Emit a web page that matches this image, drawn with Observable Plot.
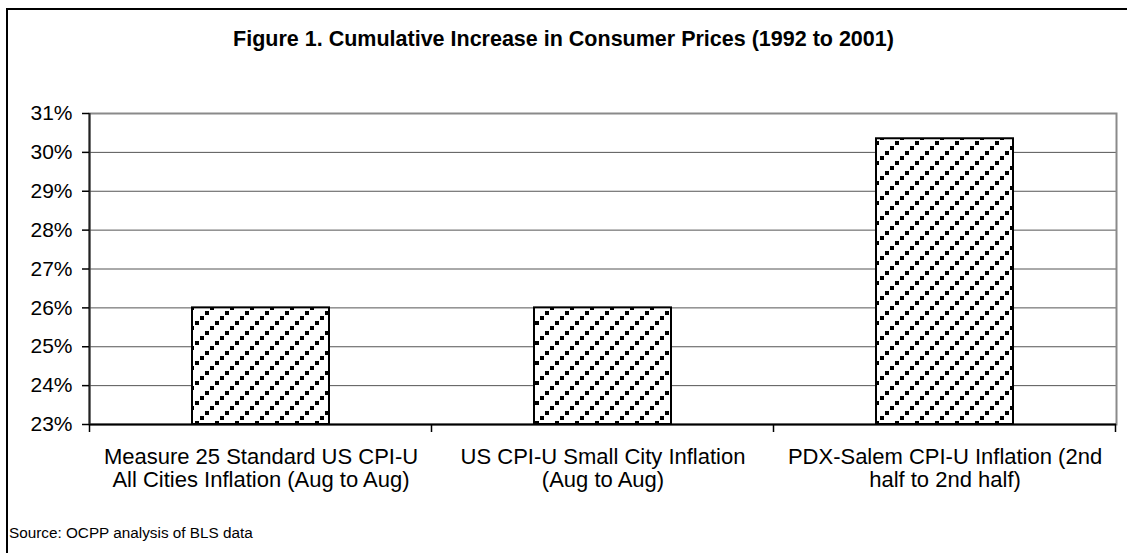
<!DOCTYPE html>
<html><head><meta charset="utf-8">
<script src="https://cdn.jsdelivr.net/npm/d3@7"></script>
<script src="https://cdn.jsdelivr.net/npm/@observablehq/plot@0.6"></script>
<style>
html,body{margin:0;padding:0;background:#fff;}
#wrap{position:relative;width:1127px;height:553px;overflow:hidden;font-family:"Liberation Sans",Arial,sans-serif;color:#000;}
#border{position:absolute;left:6px;top:8px;width:1200px;height:700px;border-top:2px solid #000;border-left:2px solid #000;}
#chart{position:absolute;left:0;top:0;}
#title{position:absolute;left:0;width:1127px;top:29px;line-height:21px;text-align:center;font-weight:bold;font-size:21.5px;}
#source{position:absolute;left:9px;top:525px;line-height:15px;font-size:15.3px;}
</style>
</head><body>
<div id="wrap">
  <div id="border"></div>
  <div id="chart"></div>
  <div id="title"></div>
  <div id="source"></div>
</div>
<script>
const titleText = "Figure 1. Cumulative Increase in Consumer Prices (1992 to 2001)";
const sourceText = "Source: OCPP analysis of BLS data";
const categories = [
  "Measure 25 Standard US CPI-U\nAll Cities Inflation (Aug to Aug)",
  "US CPI-U Small City Inflation\n(Aug to Aug)",
  "PDX-Salem CPI-U Inflation (2nd\nhalf to 2nd half)"
];
const values = [26.0, 26.0, 30.35];
const yTicks = [23, 24, 25, 26, 27, 28, 29, 30, 31];
const yDomain = [23, 31];

document.getElementById("title").textContent = titleText;
document.getElementById("source").textContent = sourceText;

const data = categories.map((c, i) => ({category: c, value: values[i]}));

const boundaryTicks = (index, scales, vals, dims) => {
  const x = scales.x, y = scales.y;
  const n = categories.length;
  const step = typeof x.step === "function" ? x.step() : (dims.width - dims.marginLeft - dims.marginRight) / n;
  const bw = typeof x.bandwidth === "function" ? x.bandwidth() : (x.bandwidth || 0);
  const bounds = [x(categories[0]) + bw / 2 - step / 2, ...categories.map(c => x(c) + bw / 2 + step / 2)];
  const yb = y(yDomain[0]), yt = y(yDomain[1]);
  const g = d3.create("svg:g");
  g.selectAll("line.b").data(bounds).join("line")
    .attr("class", "b")
    .attr("x1", d => d).attr("x2", d => d)
    .attr("y1", yb).attr("y2", yb + 8)
    .attr("stroke", "#000").attr("stroke-width", 1.5);
  g.append("line")
    .attr("x1", bounds[0]).attr("x2", bounds[0])
    .attr("y1", yt).attr("y2", yb)
    .attr("stroke", "#222").attr("stroke-width", 2);
  return g.node();
};

const chart = Plot.plot({
  width: 1127,
  height: 553,
  marginLeft: 89,
  marginRight: 11,
  marginTop: 113,
  marginBottom: 129,
  style: {fontFamily: "'Liberation Sans', Arial, sans-serif", fontSize: "21px", color: "#000", background: "transparent", overflow: "visible"},
  x: {domain: categories, paddingInner: 0.6, paddingOuter: 0.3, label: null},
  y: {domain: yDomain, label: null},
  marks: [
    Plot.gridY(yTicks, {stroke: "#555", strokeOpacity: 1, strokeWidth: 1}),
    Plot.frame({stroke: "#8a8a8a", strokeWidth: 2}),
    Plot.barY(data, {x: "category", y1: yDomain[0], y2: "value", fill: "url(#hatch)", stroke: "#000", strokeWidth: 2}),
    Plot.ruleY([yDomain[0]], {stroke: "#000", strokeWidth: 2}),
    boundaryTicks,
    Plot.axisY(yTicks, {tickFormat: d => d + "%", tickSize: 7, tickPadding: 10, fontSize: 21, stroke: "#000", strokeWidth: 1.5}),
    Plot.axisX({tickSize: 0, tickPadding: 23, fontSize: 22, lineHeight: 1.06})
  ]
});

const svg = d3.select(chart);
const defs = svg.insert("defs", ":first-child");
const pat = defs.append("pattern")
  .attr("id", "hatch")
  .attr("patternUnits", "userSpaceOnUse")
  .attr("width", 20).attr("height", 20);
pat.append("rect").attr("width", 20).attr("height", 20).attr("fill", "#fff");
[[0, 16], [5, 11], [10, 6], [15, 1]].forEach(([px, py]) => {
  pat.append("rect").attr("x", px).attr("y", py).attr("width", 4).attr("height", 4).attr("fill", "#000");
});

document.getElementById("chart").appendChild(chart);
</script>
</body></html>
